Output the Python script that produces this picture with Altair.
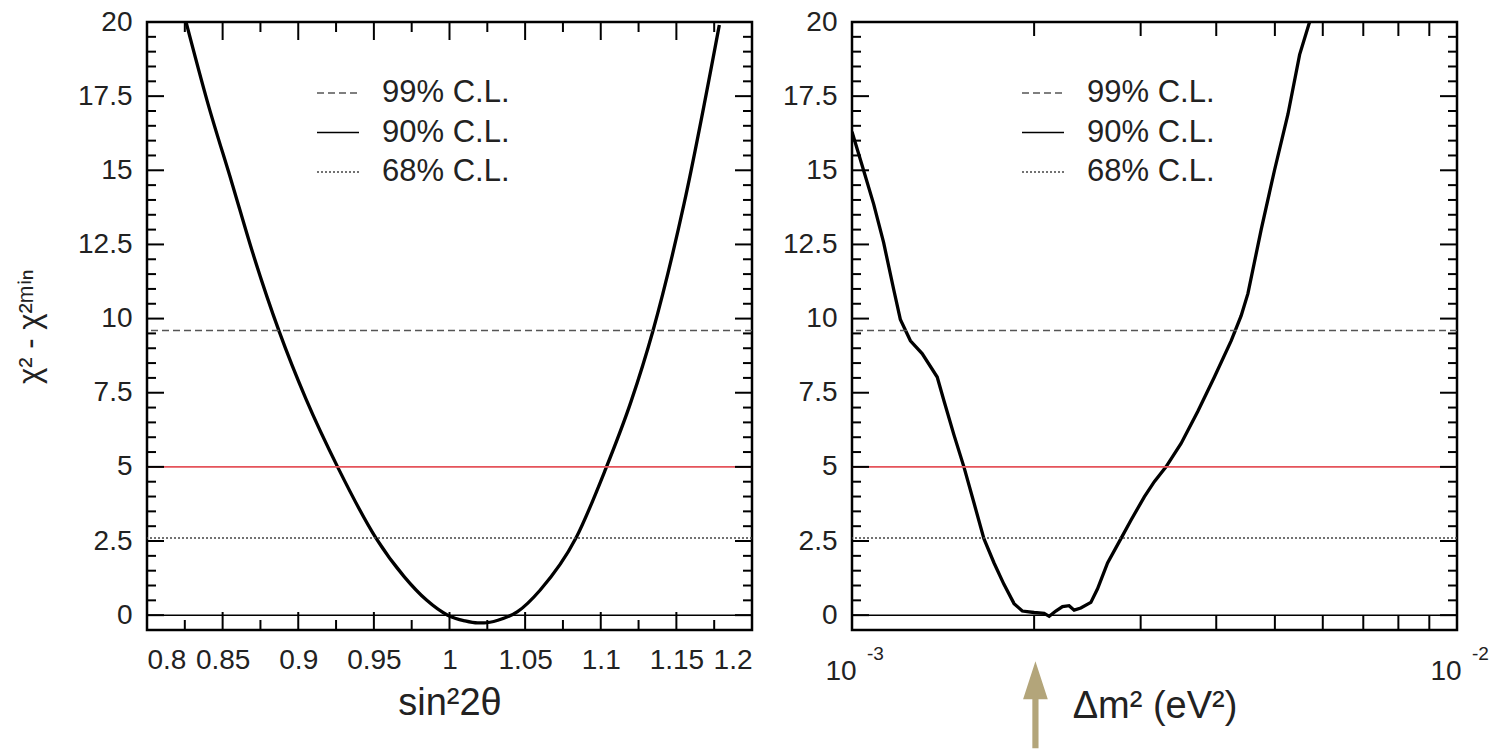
import altair as alt
import pandas as pd

# ---------------- data ----------------
# left panel: chi^2 - chi^2_min versus sin^2(2 theta)
sin2_x = [0.8258, 0.840, 0.856, 0.870, 0.8875, 0.905, 0.9265, 0.9514, 0.970, 0.985,
          0.9988, 1.010, 1.0186, 1.0230, 1.032, 1.045, 1.060, 1.0836, 1.1034, 1.120,
          1.1343, 1.1552, 1.1784]
sin2_chi = [20.0, 17.3, 14.6, 12.2, 9.55, 7.3, 4.95, 2.6, 1.3, 0.5,
            0.0, -0.19, -0.26, -0.26, -0.17, 0.12, 0.85, 2.6, 4.95, 7.2,
            9.55, 13.9, 19.9]

# right panel: chi^2 - chi^2_min versus delta m^2 (eV^2)
dm2_x = [0.001000, 0.001045, 0.001086, 0.001128, 0.001172, 0.001202, 0.001249, 0.001306,
         0.001383, 0.001419, 0.001474, 0.001531, 0.001591, 0.001652, 0.001717, 0.001783,
         0.001853, 0.001912, 0.002000, 0.002078, 0.002118, 0.002172, 0.002228, 0.002285,
         0.002329, 0.002389, 0.002482, 0.002546, 0.002645, 0.002783, 0.002891, 0.003042,
         0.003160, 0.003304, 0.003499, 0.003728, 0.003972, 0.004233, 0.004398, 0.004512,
         0.004746, 0.004994, 0.005255, 0.005494, 0.005706]
dm2_chi = [16.3, 15.0, 13.86, 12.56, 10.98, 9.97, 9.25, 8.82,
           8.03, 7.23, 6.08, 5.0, 3.78, 2.58, 1.76, 1.04,
           0.39, 0.14, 0.09, 0.06, -0.04, 0.14, 0.29, 0.32,
           0.17, 0.24, 0.43, 0.89, 1.76, 2.58, 3.2, 3.99,
           4.5, 5.0, 5.79, 6.87, 8.03, 9.25, 10.1, 10.84,
           13.0, 15.01, 16.89, 18.9, 20.0]

cl_labels = ["99% C.L.", "90% C.L.", "68% C.L."]
cl_values = [9.6, 5.0, 2.6]
cl_colors = ["#555555", "#e5535b", "#444444"]
zero_level = [0.0]
best_fit_dm2 = [0.00201]

sin2_major = [0.8, 0.85, 0.9, 0.95, 1.0, 1.05, 1.1, 1.15, 1.2]
sin2_minor = [0.825, 0.875, 0.925, 0.975, 1.025, 1.075, 1.125, 1.175]
chi_major = [0, 2.5, 5, 7.5, 10, 12.5, 15, 17.5, 20]
chi_minor = [0.5, 1, 1.5, 2, 3, 3.5, 4, 4.5, 5.5, 6, 6.5, 7, 8, 8.5, 9, 9.5,
             10.5, 11, 11.5, 12, 13, 13.5, 14, 14.5, 15.5, 16, 16.5, 17,
             18, 18.5, 19, 19.5]
dm2_minor = [0.002, 0.003, 0.004, 0.005, 0.006, 0.007, 0.008, 0.009]
dm2_label_pos = [0.001, 0.01]
dm2_label_base = ["10", "10"]
dm2_label_exp = ["-3", "-2"]

# ---------------- style ----------------
FONT = "Liberation Sans"
TXT = "#222222"
W, H = 605, 608
LBL = 28
TITLE = 38
LEG = 31
DASHES = [[7, 4], [1, 0], [2, 2]]
LEG_COL = ["#555555", "black", "#444444"]

yscale = alt.Scale(domain=[-0.5, 20], nice=False, zero=False)


def label_axis(orient, values, labels=True, **kw):
    return alt.Axis(orient=orient, values=values, ticks=False, domain=False, grid=False,
                    labels=labels, labelFont=FONT, labelColor=TXT, labelFontSize=LBL,
                    labelExpr="'' + datum.value",
                    titleFont=FONT, titleColor=TXT, titleFontWeight="normal", **kw)


def tick_rules(values, scale, channel, size):
    """Inward tick marks on both sides of the frame for the given values."""
    d = pd.DataFrame({"v": values})
    out = []
    if channel == "x":
        for y0, y1 in ((H, H - size), (0, size)):
            out.append(alt.Chart(d).mark_rule(color="black", strokeWidth=2).encode(
                x=alt.X("v:Q", scale=scale, axis=None), x2=alt.X2("v"),
                y=alt.value(y0), y2=alt.value(y1)))
    else:
        for x0, x1 in ((0, size), (W - size, W)):
            out.append(alt.Chart(d).mark_rule(color="black", strokeWidth=2).encode(
                y=alt.Y("v:Q", scale=scale, axis=None), y2=alt.Y2("v"),
                x=alt.value(x0), x2=alt.value(x1)))
    return out


def panel(df, xscale, x_axis, y_axis, x_ticks, extra, interp):
    curve = alt.Chart(df).mark_line(color="black", strokeWidth=3.3, clip=True,
                                    interpolate=interp).encode(
        x=alt.X("x:Q", scale=xscale, axis=x_axis),
        y=alt.Y("chi:Q", scale=yscale, axis=y_axis),
    )
    layers = [curve]
    cl = pd.DataFrame({"level": cl_values, "label": cl_labels, "col": cl_colors})
    layers.append(alt.Chart(cl).mark_rule(strokeWidth=1.6).encode(
        y=alt.Y("level:Q", scale=yscale, axis=None),
        color=alt.Color("col:N", scale=None, legend=None),
        strokeDash=alt.StrokeDash("label:N", scale=alt.Scale(domain=cl_labels, range=DASHES), legend=None),
    ))
    layers.append(alt.Chart(pd.DataFrame({"level": zero_level})).mark_rule(
        strokeWidth=1.5, color="black").encode(y=alt.Y("level:Q", scale=yscale, axis=None)))
    # ticks
    for vals, size in x_ticks:
        layers.extend(tick_rules(vals, xscale, "x", size))
    layers.extend(tick_rules(chi_major, yscale, "y", 17))
    layers.extend(tick_rules(chi_minor, yscale, "y", 9))
    # legend
    for i, lab in enumerate(cl_labels):
        ld = pd.DataFrame({"label": [lab]})
        yy = 71 + 39.5 * i
        layers.append(alt.Chart(ld).mark_rule(strokeWidth=1.6, color=LEG_COL[i],
                                               strokeDash=DASHES[i]).encode(
            x=alt.value(170), x2=alt.value(212), y=alt.value(yy)))
        layers.append(alt.Chart(ld).mark_text(font=FONT, fontSize=LEG, color=TXT, align="left",
                                               baseline="middle").encode(
            text="label:N", x=alt.value(235), y=alt.value(yy)))
    layers.extend(extra)
    return alt.layer(*layers).resolve_axis(x="independent", y="independent").properties(width=W, height=H)


# left panel
xsL = alt.Scale(domain=[0.8, 1.2], nice=False, zero=False)
left = panel(
    pd.DataFrame({"x": sin2_x, "chi": sin2_chi}), xsL,
    label_axis("bottom", sin2_major, labelPadding=16,
               title="sin²2θ", titleFontSize=TITLE, titlePadding=10),
    label_axis("left", chi_major, labelPadding=15,
               title="χ² - χ²ᵐⁱⁿ", titleFontSize=31, titlePadding=31),
    [(sin2_major, 18), (sin2_minor, 10)], [], "monotone",
)

# right panel
xsR = alt.Scale(type="log", domain=[0.001, 0.01], nice=False)
lab_df = pd.DataFrame({"x": dm2_label_pos, "base": dm2_label_base, "exp": dm2_label_exp})
extra_R = [
    alt.Chart(lab_df).mark_text(font=FONT, fontSize=LBL, color=TXT, align="center",
                                baseline="middle", dx=-11).encode(
        x=alt.X("x:Q", scale=xsR, axis=None), y=alt.value(H + 42), text="base:N"),
    alt.Chart(lab_df).mark_text(font=FONT, fontSize=19, color=TXT, align="left",
                                baseline="middle", dx=15).encode(
        x=alt.X("x:Q", scale=xsR, axis=None), y=alt.value(H + 24), text="exp:N"),
    alt.Chart(pd.DataFrame({"x": best_fit_dm2})).mark_point(
        shape="M0,-1L0.52,0.6L0.13,0.6L0.13,2.66L-0.13,2.66L-0.13,0.6L-0.52,0.6Z",
        size=2256, filled=True, color="#b3a57a", opacity=1, strokeWidth=0).encode(
        x=alt.X("x:Q", scale=xsR, axis=None), y=alt.value(H + 55)),
]
right = panel(
    pd.DataFrame({"x": dm2_x, "chi": dm2_chi}), xsR,
    label_axis("bottom", dm2_minor, labels=False, title="Δm² (eV²)",
               titleFontSize=TITLE, titlePadding=57),
    label_axis("left", chi_major, labelPadding=15, title=None),
    [(dm2_minor, 14)], extra_R, "linear",
)

chart = alt.hconcat(left, right, spacing=26).properties(
    padding={"left": 13, "top": 6, "right": 0, "bottom": 0},
    background="white",
).configure_view(stroke="black", strokeWidth=2.5)

chart.save("out.html", embed_options={"renderer": "svg", "actions": False})
